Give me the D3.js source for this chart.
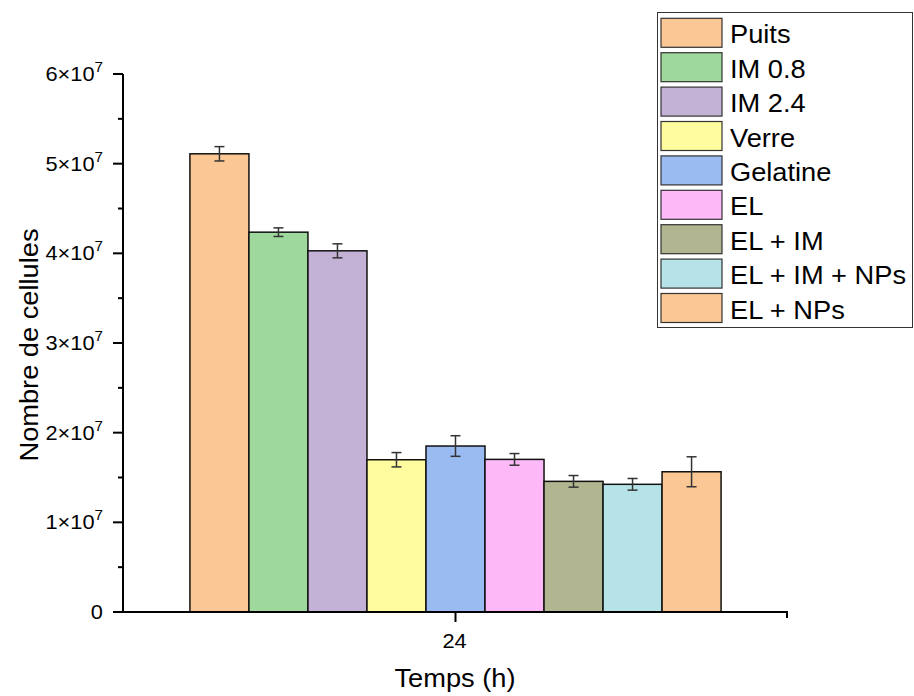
<!DOCTYPE html>
<html>
<head>
<meta charset="utf-8">
<script src="https://cdn.jsdelivr.net/npm/d3@7"></script>
<style>
  html, body { margin: 0; padding: 0; background: #fff; }
  svg { display: block; font-family: "Liberation Sans", Arial, sans-serif; }
</style>
</head>
<body>
<svg id="chart" width="914" height="696"></svg>
<script>
// Cell counts after 24 h for each culture condition
const categories = ["Puits", "IM 0.8", "IM 2.4", "Verre", "Gelatine", "EL", "EL + IM", "EL + IM + NPs", "EL + NPs"];
const values = [5.11e7, 4.236e7, 4.028e7, 1.698e7, 1.851e7, 1.702e7, 1.457e7, 1.424e7, 1.564e7];
const errors = [0.08e7, 0.048e7, 0.078e7, 0.08e7, 0.115e7, 0.065e7, 0.065e7, 0.065e7, 0.167e7];
const colors = ["#FBC794", "#9ED89D", "#C3B1D6", "#FFFC9F", "#9ABAF2", "#FDB8F8", "#B1B590", "#B5E3E8", "#FBC794"];
const timeLabels = ["24"];
const yTicks = [0, 1e7, 2e7, 3e7, 4e7, 5e7, 6e7];

const svg = d3.select("#chart");
const plotLeft = 123, plotRight = 788, plotTop = 74, plotBottom = 612;
const widen = 1.09; // glyphs are drawn slightly wide

const y = d3.scaleLinear().domain([0, 6e7]).range([plotBottom, plotTop]);
const xGroup = d3.scaleBand().domain(timeLabels).range([plotLeft, plotRight]).paddingInner(0).paddingOuter(0.126);
const xBar = d3.scaleBand().domain(categories).range([0, xGroup.bandwidth()]).padding(0);

// Bars
const g = svg.append("g");
const bars = g.selectAll("g.bar").data(categories).join("g")
  .attr("class", "bar")
  .attr("transform", d => `translate(${xGroup("24") + xBar(d)},0)`);

bars.append("rect")
  .attr("x", 0)
  .attr("y", (d, i) => y(values[i]))
  .attr("width", xBar.bandwidth())
  .attr("height", (d, i) => y(0) - y(values[i]))
  .attr("fill", (d, i) => colors[i])
  .attr("stroke", "#111")
  .attr("stroke-width", 1.5);

// Error bars
const cx = xBar.bandwidth() / 2;
bars.append("line")
  .attr("x1", cx).attr("x2", cx)
  .attr("y1", (d, i) => y(values[i] + errors[i]))
  .attr("y2", (d, i) => y(values[i] - errors[i]))
  .attr("stroke", "#333").attr("stroke-width", 1.5);
[1, -1].forEach(s => {
  bars.append("line")
    .attr("x1", cx - 5).attr("x2", cx + 5)
    .attr("y1", (d, i) => y(values[i] + s * errors[i]))
    .attr("y2", (d, i) => y(values[i] + s * errors[i]))
    .attr("stroke", "#333").attr("stroke-width", 1.5);
});

// Y axis
const yAxis = svg.append("g").attr("transform", `translate(${plotLeft},0)`);
yAxis.append("line").attr("x1", 0).attr("x2", 0).attr("y1", plotTop).attr("y2", plotBottom + 1)
  .attr("stroke", "#000").attr("stroke-width", 2);
const minor = d3.range(0.5e7, 6e7, 1e7);
yAxis.selectAll("line.minor").data(minor).join("line")
  .attr("class", "minor")
  .attr("x1", -5).attr("x2", 0)
  .attr("y1", d => y(d)).attr("y2", d => y(d))
  .attr("stroke", "#000").attr("stroke-width", 2);
yAxis.selectAll("line.major").data(yTicks).join("line")
  .attr("class", "major")
  .attr("x1", -10).attr("x2", 0)
  .attr("y1", d => y(d)).attr("y2", d => y(d))
  .attr("stroke", "#000").attr("stroke-width", 2);
const yLab = yAxis.selectAll("text.tick").data(yTicks).join("text")
  .attr("class", "tick")
  .attr("transform", d => `translate(-20,${y(d) + 7}) scale(${widen},1)`)
  .attr("text-anchor", "end")
  .attr("font-size", 20)
  .attr("fill", "#000");
yLab.each(function(d) {
  const t = d3.select(this);
  if (d === 0) { t.text("0"); return; }
  t.append("tspan").text(`${d / 1e7}×10`);
  t.append("tspan").attr("dy", -9).attr("font-size", 14).text("7");
});

// X axis
const xAxis = svg.append("g").attr("transform", `translate(0,${plotBottom})`);
xAxis.append("line").attr("x1", plotLeft - 1).attr("x2", plotRight).attr("y1", 0).attr("y2", 0)
  .attr("stroke", "#000").attr("stroke-width", 2);
xAxis.append("line").attr("x1", plotRight - 1).attr("x2", plotRight - 1).attr("y1", 0).attr("y2", 6)
  .attr("stroke", "#000").attr("stroke-width", 2);
xAxis.selectAll("line.tk").data(timeLabels).join("line")
  .attr("class", "tk")
  .attr("x1", d => xGroup(d) + xGroup.bandwidth() / 2)
  .attr("x2", d => xGroup(d) + xGroup.bandwidth() / 2)
  .attr("y1", 0).attr("y2", 10)
  .attr("stroke", "#000").attr("stroke-width", 2);
xAxis.selectAll("text.tk").data(timeLabels).join("text")
  .attr("class", "tk")
  .attr("transform", d => `translate(${xGroup(d) + xGroup.bandwidth() / 2 - 1},36) scale(${widen},1)`)
  .attr("text-anchor", "middle")
  .attr("font-size", 20)
  .text(d => d);

// Axis titles
svg.append("text")
  .attr("transform", `translate(455,687) scale(${widen},1)`)
  .attr("text-anchor", "middle").attr("font-size", 25)
  .text("Temps (h)");
svg.append("text")
  .attr("transform", `translate(38,345) rotate(-90) scale(${widen},1)`)
  .attr("text-anchor", "middle").attr("font-size", 25)
  .text("Nombre de cellules");

// Legend
const legend = svg.append("g");
legend.append("rect")
  .attr("x", 657.5).attr("y", 12.5).attr("width", 255).attr("height", 315)
  .attr("fill", "#fff").attr("stroke", "#333").attr("stroke-width", 1);
const items = legend.selectAll("g.item").data(categories).join("g")
  .attr("class", "item")
  .attr("transform", (d, i) => `translate(661,${18.3 + i * 34.4})`);
items.append("rect")
  .attr("width", 61).attr("height", 29)
  .attr("fill", (d, i) => colors[i])
  .attr("stroke", "#333").attr("stroke-width", 1.2);
items.append("text")
  .attr("transform", `translate(69,25) scale(${widen},1)`)
  .attr("font-size", 25)
  .text(d => d);
</script>
</body>
</html>
